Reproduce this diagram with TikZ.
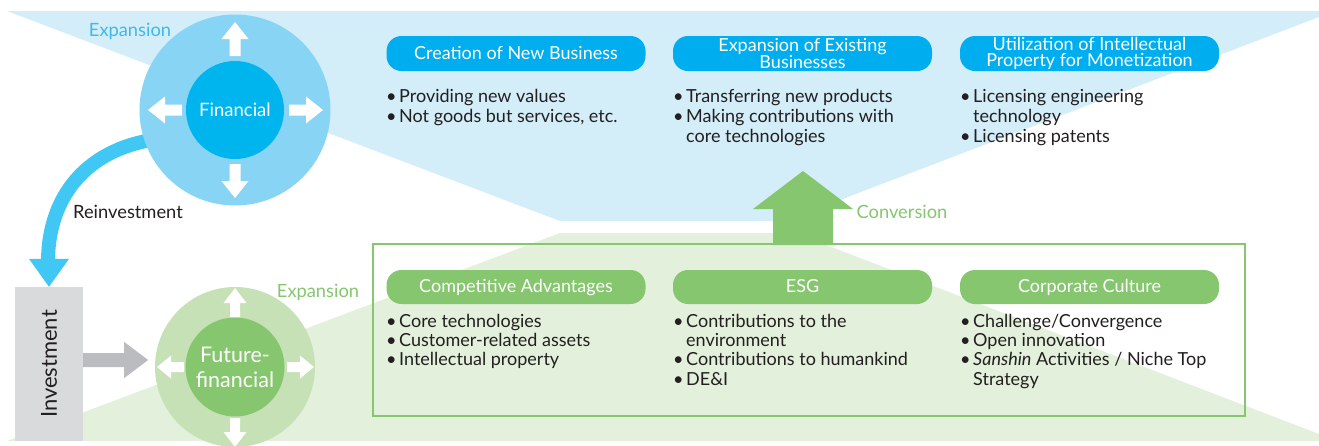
\documentclass[tikz,border=0pt]{standalone}
\usepackage{fontspec}
\setmainfont{Lato}
\usetikzlibrary{backgrounds,calc}
\definecolor{bgblue}{HTML}{D3EDF9}
\definecolor{bggreen}{HTML}{E3F0DC}
\definecolor{pillblue}{HTML}{00AEEF}
\definecolor{outerblue}{HTML}{88D4F5}
\definecolor{innerblue}{HTML}{00B5EE}
\definecolor{arcblue}{HTML}{40C7F4}
\definecolor{outergreen}{HTML}{C6E1B5}
\definecolor{innergreen}{HTML}{86C66F}
\definecolor{greentxt}{HTML}{86C66F}
\definecolor{graybox}{HTML}{D9DADC}
\definecolor{grayarrow}{HTML}{BBBCBF}
\definecolor{darktxt}{HTML}{231F20}
\definecolor{bluetxt}{HTML}{3DB9EB}
\newcommand{\bu}{\makebox[13pt][l]{\textbullet}}
\newcommand{\ind}{\hspace*{13pt}}
\tikzset{
  pill/.style={rounded corners=15pt, minimum width=259pt, minimum height=35pt, inner sep=0pt,
    text=white, align=center, font=\fontsize{18}{15.5}\selectfont},
  oneline/.style={text height=11pt, text depth=0pt},
  bluepill/.style={pill, fill=pillblue},
  greenpill/.style={pill, oneline, fill=innergreen, minimum height=34pt},
  blist/.style={anchor=base west, inner sep=0pt, align=left, text=darktxt,
    font=\fontsize{18}{20}\selectfont},
  glist/.style={blist, font=\fontsize{18}{19.3}\selectfont},
  lbl/.style={inner sep=0pt, font=\fontsize{18.3}{18}\selectfont},
  pics/warrow/.style n args={4}{code={
    \fill[white] (-#2/2,0) -- (-#2/2,-#4) -- (-#3/2,-#4) -- (0,-#1) -- (#3/2,-#4) -- (#2/2,-#4) -- (#2/2,0) -- cycle;
  }}
}
\begin{document}
\begin{tikzpicture}[x=1pt,y=-1pt]
\useasboundingbox (0,0) rectangle (1319,445);
% circles and boxes
\node[circle, fill=outerblue, minimum size=191pt, inner sep=0pt] (finout) at (235,110) {};
\node[circle, fill=innerblue, minimum size=98pt, inner sep=0pt, text=white,
  font=\fontsize{18.5}{18.5}\selectfont] (fin) at (235,110) {Financial};
\node[circle, fill=outergreen, minimum size=160pt, inner sep=0pt] (ffout) at (235,367) {};
\node[circle, fill=innergreen, minimum size=99pt, inner sep=0pt, text=white, align=center,
  font=\fontsize{21.5}{25}\selectfont] (ff) at (235,367) {Future-\\financial};
\node[fill=graybox, minimum width=68pt, minimum height=154pt, inner sep=0pt] (inv) at (49,364) {};
\node[rotate=90, text=darktxt, inner sep=0pt, font=\fontsize{22}{22}\selectfont] (invtxt) at (inv.center) {Investment};
\node[draw=innergreen, line width=2pt, minimum width=872pt, minimum height=172pt, inner sep=0pt] (frame) at (809,330) {};
% backgrounds
\begin{scope}[on background layer]
\fill[bgblue] (7,11) -- (1319,11) -- (1319,17) -- (785,221) -- (560,221) -- cycle;
\fill[bggreen] (7,441) -- (560,233) -- (795,233) -- (1319,434) -- (1319,441) -- cycle;
\draw[line width=14pt, arcblue] ([xshift=8pt,yshift=3pt]finout.200) .. controls (88,150) and (48,195) .. (48,262);
\end{scope}
% white arrows
\pic at (235,56) {warrow={34}{11}{27}{17}};
\pic[rotate=270] at (289,110) {warrow={34}{11}{27}{17}};
\pic[rotate=180] at (235,164) {warrow={34}{11}{27}{17}};
\pic[rotate=90] at (182,110) {warrow={34}{11}{27}{17}};
\pic at (235,317) {warrow={29}{10}{23}{14}};
\pic[rotate=270] at (287,367) {warrow={27}{10}{23}{13}};
\pic[rotate=180] at (235,418) {warrow={29}{10}{23}{14}};
\pic[rotate=90] at (184,367) {warrow={27}{10}{23}{13}};
% reinvestment arrowhead
\fill[arcblue] (inv.north) -- ++(-20,-28) -- ++(40,0) -- cycle;
% gray arrow
\coordinate (gstart) at ([yshift=4pt]inv.east);
\fill[grayarrow] ([yshift=7pt]gstart) -- ++(41,0) -- ++(0,-11) -- ++(24,18) -- ++(-24,18) -- ++(0,-11) -- ++(-41,0) -- cycle;
% conversion arrow
\coordinate (cbase) at (803,245);
\coordinate (ctip) at (803,171);
\fill[innergreen] ([xshift=-30pt]cbase) -- ([xshift=-30pt]cbase |- 0,209) -- ([xshift=-50pt]cbase |- 0,209) -- (ctip)
  -- ([xshift=50pt]cbase |- 0,209) -- ([xshift=30pt]cbase |- 0,209) -- ([xshift=30pt]cbase) -- cycle;
% labels
\node[lbl, text=bluetxt] (expb) at (130,31) {Expansion};
\node[lbl, text=darktxt] (reinv) at (128,212) {Reinvestment};
\node[lbl, text=greentxt] (expg) at (318,292) {Expansion};
\node[lbl, text=greentxt] (conv) at (902,212) {Conversion};
% pills
\node[bluepill, oneline] (p1) at (516,53.5) {Creation of New Business};
\node[bluepill] (p2) at (802.5,53.5) {Expansion of Existing\\Businesses};
\node[bluepill] (p3) at (1089.5,53.5) {Utilization of Intellectual\\Property for Monetization};
\node[greenpill] (g1) at (516,287) {Competitive Advantages};
\node[greenpill] (g2) at (802.5,287) {ESG};
\node[greenpill] (g3) at (1089.5,287) {Corporate Culture};
% lists (anchored at the baseline of their last line)
\node[blist] (l1) at (386,122) {\bu Providing new values\\\bu Not goods but services, etc.};
\node[blist] (l2) at (673,142) {\bu Transferring new products\\\bu Making contributions with\\\ind core technologies};
\node[blist] (l3) at (960,142) {\bu Licensing engineering\\\ind technology\\\bu Licensing patents};
\node[glist] (l4) at (386,365.6) {\bu Core technologies\\\bu Customer-related assets\\\bu Intellectual property};
\node[glist] (l5) at (673,385) {\bu Contributions to the\\\ind environment\\\bu Contributions to humankind\\\bu DE\&I};
\node[glist] (l6) at (960,385) {\bu Challenge/Convergence\\\bu Open innovation\\\bu \textit{Sanshin} Activities / Niche Top\\\ind Strategy};
\end{tikzpicture}
\end{document}
